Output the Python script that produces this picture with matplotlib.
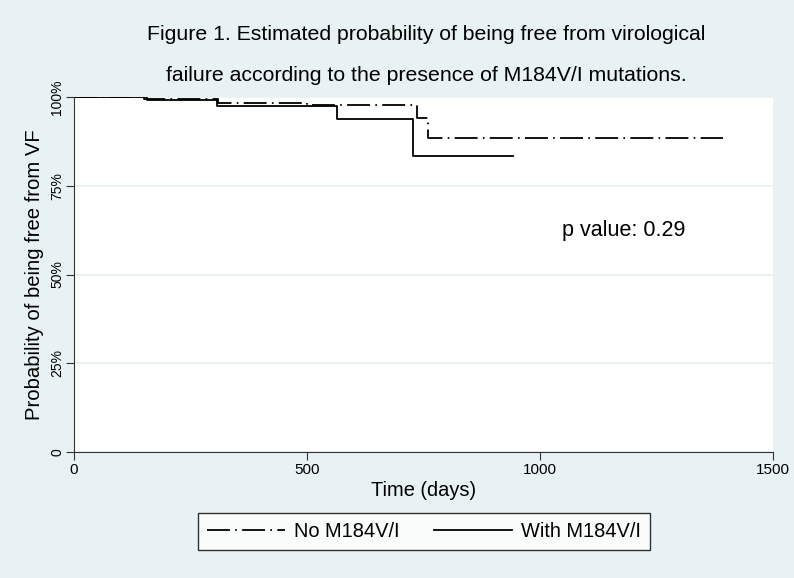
import matplotlib
matplotlib.use("Agg")
import matplotlib.pyplot as plt

# Kaplan-Meier step values
no_mut_days = [0, 150, 310, 500, 736, 759, 1393]
no_mut_surv = [1.0, 0.994, 0.983, 0.979, 0.942, 0.885, 0.885]

with_mut_days = [0, 157, 307, 564, 728, 942]
with_mut_surv = [1.0, 0.992, 0.975, 0.938, 0.834, 0.834]

x_ticks = [0, 500, 1000, 1500]
y_ticks = [0, 0.25, 0.5, 0.75, 1.0]
y_tick_labels = ["0", "25%", "50%", "75%", "100%"]

bg = "#e8f1f3"
plt.rcParams["font.family"] = ["Liberation Sans", "DejaVu Sans"]
plt.rcParams["lines.scale_dashes"] = False

fig = plt.figure(figsize=(7.94, 5.78), dpi=100, facecolor=bg)
ax = fig.add_axes([0.0932, 0.218, 0.8804, 0.614])
ax.set_facecolor("white")

ax.plot(no_mut_days, no_mut_surv, drawstyle="steps-post", color="black",
        lw=1.3, linestyle=(0, (16.5, 3.8, 1.2, 3.8)), label="No M184V/I")
ax.plot(with_mut_days, with_mut_surv, drawstyle="steps-post", color="black",
        lw=1.3, label="With M184V/I")

ax.set_xlim(0, 1500)
ax.set_ylim(0, 1.0)
ax.set_xticks(x_ticks)
ax.set_yticks(y_ticks)
ax.set_yticklabels(y_tick_labels, rotation=90, va="center")
ax.tick_params(length=6, color="#333333")
ax.tick_params(axis="x", labelsize=11, pad=2)
ax.tick_params(axis="y", labelsize=10, pad=1)
ax.grid(axis="y", color=bg, lw=1.2)
ax.set_axisbelow(True)
for side in ["top", "right"]:
    ax.spines[side].set_visible(False)
for side in ["left", "bottom"]:
    ax.spines[side].set_color("#333333")

ax.set_xlabel("Time (days)", fontsize=14.4, labelpad=3)
ax.set_ylabel("Probability of being free from VF", fontsize=14.6)
ax.yaxis.set_label_coords(-0.043, 0.5)
ax.text(1180, 0.624, "p value: 0.29", fontsize=15.5, ha="center", va="center")

fig.text(0.537, 0.94, "Figure 1. Estimated probability of being free from virological",
         fontsize=15.3, ha="center", va="center")
fig.text(0.537, 0.87, "failure according to the presence of M184V/I mutations.",
         fontsize=15.3, ha="center", va="center")

leg = fig.legend(loc="center", bbox_to_anchor=(0.534, 0.081), ncol=2,
                 fontsize=14.4, frameon=True, fancybox=False, handlelength=3.9,
                 handletextpad=0.45, columnspacing=1.7, borderpad=0.45)
leg.get_frame().set_edgecolor("black")
leg.get_frame().set_facecolor("white")
leg.get_frame().set_linewidth(1.0)

fig.savefig("out.png", dpi=100, facecolor=bg)
